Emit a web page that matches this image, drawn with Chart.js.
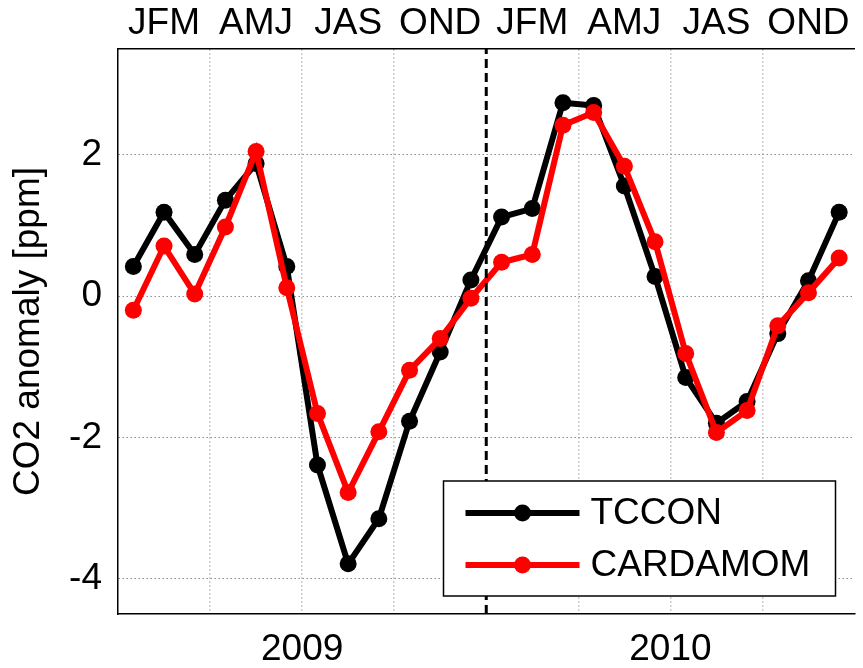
<!DOCTYPE html>
<html>
<head>
<meta charset="utf-8">
<script src="https://cdn.jsdelivr.net/npm/chart.js@4/dist/chart.umd.min.js"></script>
<style>
  body { margin: 0; background: #fff; }
  #wrap { width: 863px; height: 668px; }
</style>
</head>
<body>
<div id="wrap"><canvas id="chart" width="863" height="668"></canvas></div>
<script>
// monthly CO2 anomaly, Jan 2009 .. Dec 2010
var quarterLabels = ['JFM', 'AMJ', 'JAS', 'OND'];
var years = ['2009', '2010'];
var yTicks = [-4, -2, 0, 2];
var tccon = [0.42, 1.19, 0.59, 1.36, 1.88, 0.42, -2.39, -3.79, -3.15, -1.77, -0.79, 0.23,
             1.12, 1.24, 2.74, 2.70, 1.56, 0.28, -1.15, -1.80, -1.49, -0.53, 0.22, 1.19];
var cardamom = [-0.20, 0.71, 0.03, 0.98, 2.05, 0.12, -1.66, -2.78, -1.92, -1.05, -0.60, -0.03,
                0.48, 0.59, 2.42, 2.60, 1.84, 0.77, -0.81, -1.93, -1.62, -0.42, 0.05, 0.54];
var yearBreak = 12; // month index where 2010 starts

var nMonths = tccon.length;
function toPoints(arr) {
    return arr.map(function (v, i) { return { x: i + 0.5, y: v }; });
}

Chart.defaults.font.family = '"Liberation Sans", Arial, Helvetica, sans-serif';
Chart.defaults.font.size = 37;
Chart.defaults.color = '#000';

// legend box drawn inside the plot (bottom right)
var boxLegend = {
    id: 'boxLegend',
    afterDraw: function (chart) {
        var ctx = chart.ctx;
        var area = chart.chartArea;
        var w = 392, h = 115;
        var x0 = area.right - 19 - w, y0 = area.bottom - 18 - h;
        ctx.save();
        ctx.fillStyle = '#fff';
        ctx.fillRect(x0, y0, w, h);
        ctx.strokeStyle = '#000';
        ctx.lineWidth = 1.5;
        ctx.strokeRect(x0, y0, w, h);
        var items = chart.data.datasets.filter(function (d) { return d.label; });
        items.forEach(function (ds, i) {
            var y = y0 + 32 + i * 52;
            ctx.strokeStyle = ds.borderColor;
            ctx.lineWidth = 6;
            ctx.beginPath();
            ctx.moveTo(x0 + 22, y);
            ctx.lineTo(x0 + 136, y);
            ctx.stroke();
            ctx.fillStyle = ds.pointBackgroundColor;
            ctx.beginPath();
            ctx.arc(x0 + 79, y, 8.5, 0, Math.PI * 2);
            ctx.fill();
            ctx.fillStyle = '#000';
            ctx.font = '37px "Liberation Sans", Arial, sans-serif';
            ctx.textBaseline = 'middle';
            ctx.textAlign = 'left';
            ctx.fillText(ds.label, x0 + 147, y + 1);
        });
        ctx.restore();
    }
};

function noSidePadding(s, h) {
    s.height = h;
    s.paddingLeft = 0;
    s.paddingRight = 0;
}

var ctx = document.getElementById('chart').getContext('2d');
var myChart = new Chart(ctx, {
    type: 'line',
    data: {
        datasets: [{
            label: 'TCCON',
            data: toPoints(tccon),
            borderColor: '#000',
            backgroundColor: '#000',
            pointBackgroundColor: '#000',
            pointBorderWidth: 0,
            pointRadius: 8.5,
            borderWidth: 6,
            order: 2
        }, {
            label: 'CARDAMOM',
            data: toPoints(cardamom),
            borderColor: '#ff0000',
            backgroundColor: '#ff0000',
            pointBackgroundColor: '#ff0000',
            pointBorderWidth: 0,
            pointRadius: 8.5,
            borderWidth: 6,
            order: 1
        }, {
            label: '',
            data: [{ x: yearBreak, y: -4.5 }, { x: yearBreak, y: 3.5 }],
            borderColor: '#000',
            borderWidth: 3,
            borderDash: [9, 5],
            pointRadius: 0,
            order: 0
        }]
    },
    options: {
        responsive: false,
        animation: false,
        layout: { padding: { right: 6 } },
        plugins: {
            legend: { display: false },
            tooltip: { enabled: false }
        },
        scales: {
            x: {
                type: 'linear',
                position: 'bottom',
                min: 0,
                max: nMonths,
                afterFit: function (s) { noSidePadding(s, 54); },
                afterBuildTicks: function (s) {
                    var t = [];
                    for (var m = 0; m <= nMonths; m += 3) t.push({ value: m });
                    s.ticks = t;
                },
                ticks: {
                    autoSkip: false,
                    maxRotation: 0,
                    padding: 14,
                    callback: function (v) {
                        var k = (v - 6) / 12;
                        return (Number.isInteger(k) && years[k]) ? years[k] : '';
                    }
                },
                grid: {
                    drawTicks: false,
                    lineWidth: 1.5,
                    color: function (c) {
                        if (!c.tick) return '#000';
                        var v = c.tick.value;
                        if (v === 0 || v === nMonths || v === yearBreak) return 'rgba(0,0,0,0)';
                        return '#cccccc';
                    }
                },
                border: { display: true, color: '#000', width: 1.5, dash: [2, 2] }
            },
            xTop: {
                type: 'linear',
                position: 'top',
                min: 0,
                max: nMonths,
                afterFit: function (s) { noSidePadding(s, 49); },
                afterBuildTicks: function (s) {
                    var t = [];
                    for (var q = 0; q < nMonths / 3; q++) t.push({ value: q * 3 + 1.5 });
                    s.ticks = t;
                },
                ticks: {
                    autoSkip: false,
                    maxRotation: 0,
                    padding: 3,
                    callback: function (v) {
                        return quarterLabels[Math.round((v - 1.5) / 3) % 4];
                    }
                },
                grid: { display: false, drawTicks: false },
                border: { display: true, color: '#000', width: 1.5 }
            },
            y: {
                min: -4.5,
                max: 3.5,
                afterFit: function (s) { s.width = 118; },
                afterBuildTicks: function (s) {
                    s.ticks = yTicks.map(function (v) { return { value: v }; });
                },
                ticks: { padding: 16 },
                title: {
                    display: true,
                    text: 'CO2 anomaly [ppm]',
                    font: { size: 37 },
                    padding: { top: 7, bottom: 0 }
                },
                grid: {
                    drawTicks: false,
                    lineWidth: 1,
                    color: '#8c8c8c'
                },
                border: { display: true, color: '#000', width: 1.5, dash: [1.5, 2.5] }
            }
        }
    },
    plugins: [boxLegend]
});
</script>
</body>
</html>
